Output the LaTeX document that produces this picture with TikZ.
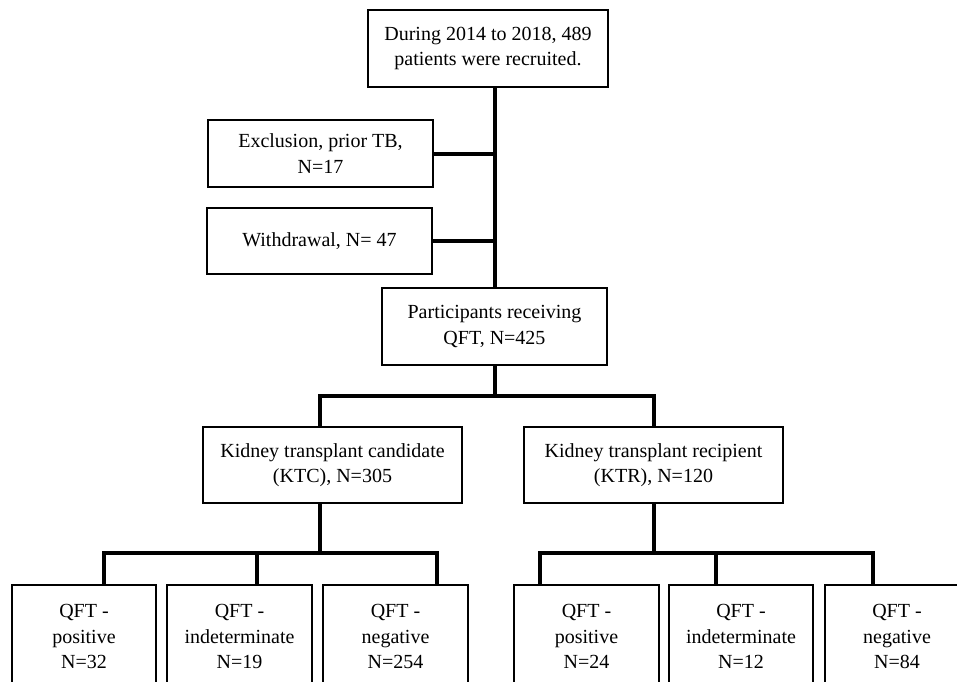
\documentclass[tikz,border=0pt]{standalone}
\usepackage{fontspec}
\setmainfont{Liberation Serif}
\begin{document}
\begin{tikzpicture}[x=1pt,y=-1pt,
  box/.style={draw, line width=1.6pt, align=center, inner sep=0pt,
    font=\fontsize{20}{25.5}\selectfont},
  conn/.style={line width=4pt, line join=miter}]
\clip (0,0) rectangle (957,681);
\useasboundingbox (0,0) rectangle (957,681);
% boxes
\node[box, minimum width=240pt, minimum height=77pt] (top) at (488,48.5)
  {During 2014 to 2018, 489\\patients were recruited.};
\node[box, minimum width=225pt, minimum height=67pt] (excl) at (320.5,153.5)
  {Exclusion, prior TB,\\N=17};
\node[box, minimum width=225pt, minimum height=66pt] (withd) at (319.5,241)
  {Withdrawal, N= 47};
\node[box, minimum width=225pt, minimum height=77pt] (part) at (494.5,326.5)
  {Participants receiving\\QFT, N=425};
\node[box, minimum width=259pt, minimum height=76pt] (ktc) at (332.5,465)
  {Kidney transplant candidate\\(KTC), N=305};
\node[box, minimum width=259pt, minimum height=76pt] (ktr) at (653.5,465)
  {Kidney transplant recipient\\(KTR), N=120};
\node[box, minimum width=144pt, minimum height=104pt, anchor=north] (b1) at (84,584)
  {QFT -\\positive\\N=32};
\node[box, minimum width=145pt, minimum height=104pt, anchor=north] (b2) at (239.5,584)
  {QFT -\\indeterminate\\N=19};
\node[box, minimum width=145pt, minimum height=104pt, anchor=north] (b3) at (395.5,584)
  {QFT -\\negative\\N=254};
\node[box, minimum width=145pt, minimum height=104pt, anchor=north] (b4) at (586.5,584)
  {QFT -\\positive\\N=24};
\node[box, minimum width=144pt, minimum height=104pt, anchor=north] (b5) at (741,584)
  {QFT -\\indeterminate\\N=12};
\node[box, minimum width=144pt, minimum height=104pt, anchor=north] (b6) at (897,584)
  {QFT -\\negative\\N=84};
% branch points
\coordinate (s1) at (494.5,396);
\coordinate (kl) at (320,427);
\coordinate (s2) at (320,553);
\coordinate (s3) at (653.5,553);
\coordinate (c1) at (104,584);
\coordinate (c2) at (257,584);
\coordinate (c3) at (437,584);
\coordinate (c4) at (540,584);
\coordinate (c5) at (716,584);
\coordinate (c6) at (873,584);
% connectors
\draw[conn] (top.south -| part.north) -- (part.north);
\draw[conn] (excl.east) -- (excl.east -| part.north);
\draw[conn] (withd.east) -- (withd.east -| part.north);
\draw[conn] (part.south) -- (s1);
\draw[conn] (kl) |- (s1) -| (ktr.north);
\draw[conn] (ktc.south -| s2) -- (s2);
\draw[conn] (c1) |- (s2) -| (c3);
\draw[conn] (c2) -- (c2 |- s2);
\draw[conn] (ktr.south) -- (s3);
\draw[conn] (c4) |- (s3) -| (c6);
\draw[conn] (c5) -- (c5 |- s3);
\end{tikzpicture}
\end{document}
